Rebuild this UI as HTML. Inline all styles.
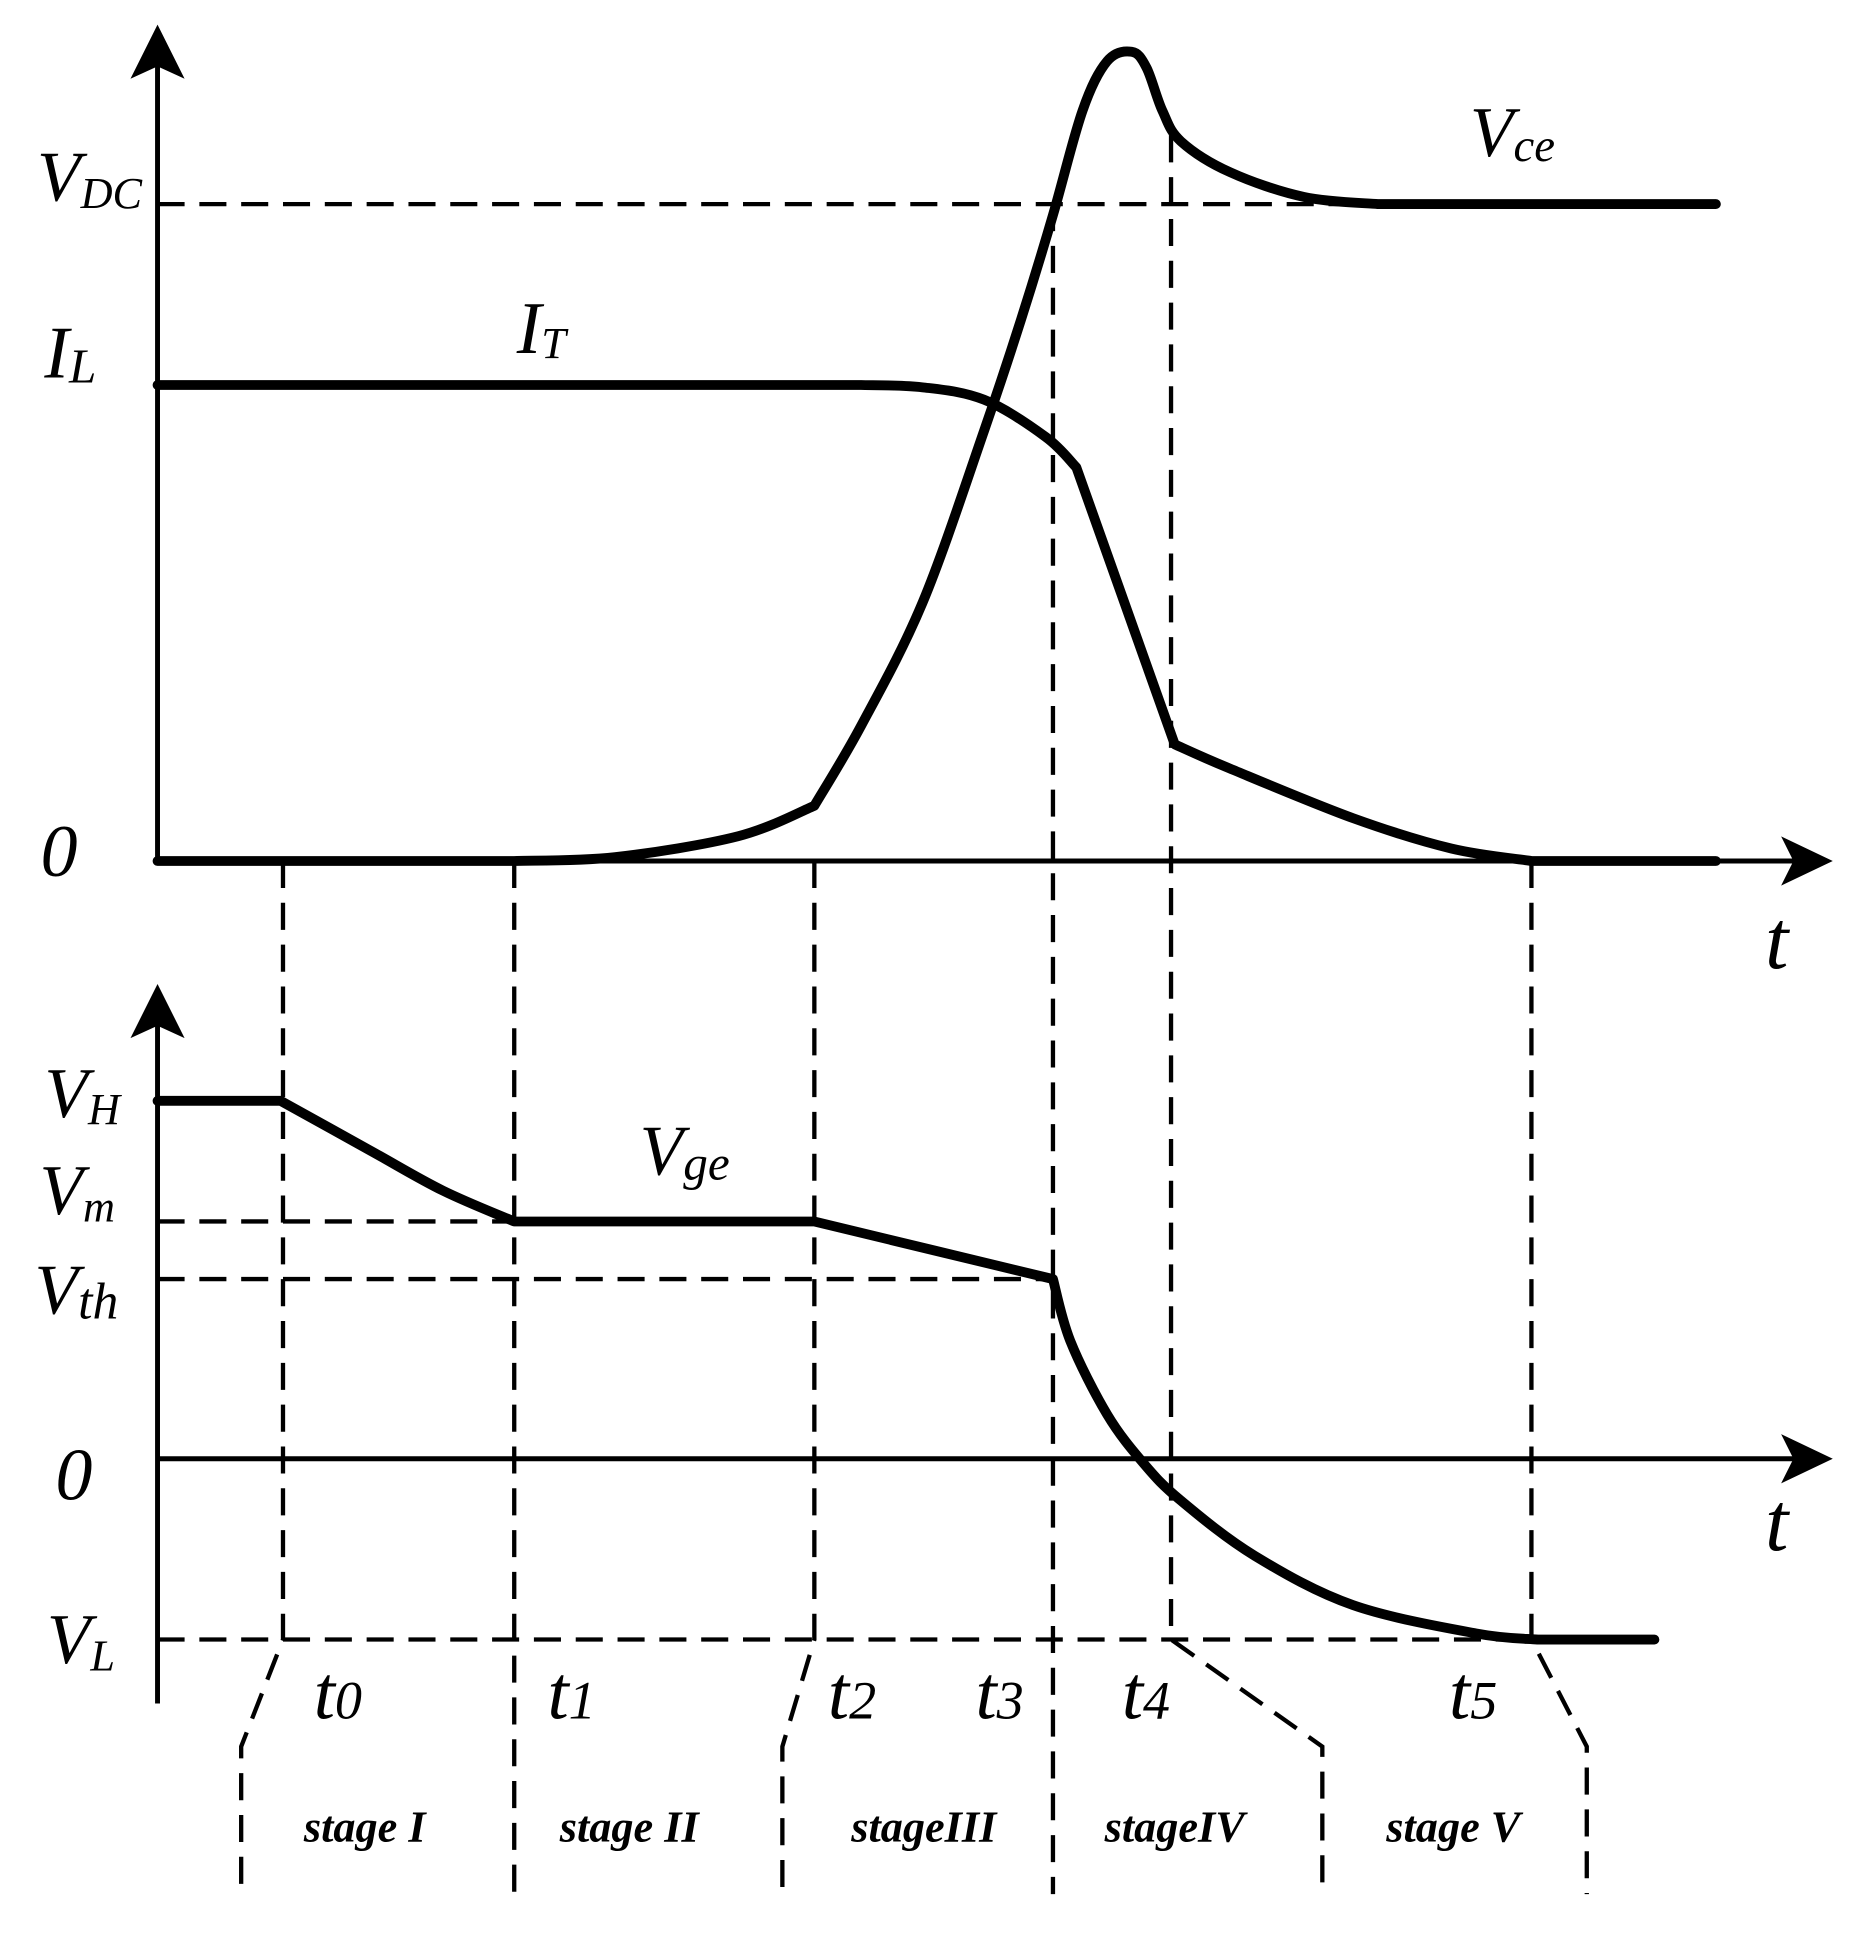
<!DOCTYPE html>
<html><head><meta charset="utf-8"><style>
html,body{margin:0;padding:0;background:#fff}
svg{display:block}
text{font-family:"Liberation Serif",serif;font-style:italic;fill:#000}
</style></head><body>
<svg id="chart" width="1871" height="1936" viewBox="0 0 1521 1574" xmlns="http://www.w3.org/2000/svg">
<g id="axes"></g>
<g id="guides"></g>
<g id="series"></g>
<g id="labels">
<text x="30" y="163" font-size="58">V<tspan font-size="36" dy="6">DC</tspan></text>
<text x="36" y="307" font-size="60">I<tspan font-size="40" dy="4">L</tspan></text>
<text x="420" y="287" font-size="60">I<tspan font-size="36" dy="4">T</tspan></text>
<text x="1195" y="127" font-size="58">V<tspan font-size="38" dy="4">ce</tspan></text>
<text x="33" y="712" font-size="60">0</text>
<text x="1435" y="787" font-size="68">t</text>
<text x="520" y="955" font-size="58">V<tspan font-size="40" dy="4">ge</tspan></text>
<text x="36" y="908" font-size="58">V<tspan font-size="36" dy="6">H</tspan></text>
<text x="32" y="987" font-size="58">V<tspan font-size="36" dy="6">m</tspan></text>
<text x="28" y="1068" font-size="58">V<tspan font-size="42" dy="4">th</tspan></text>
<text x="45" y="1219" font-size="60">0</text>
<text x="1435" y="1260" font-size="68">t</text>
<text x="38" y="1352" font-size="58">V<tspan font-size="36" dy="6">L</tspan></text>
<text x="255" y="1397" font-size="62">t<tspan font-size="44">0</tspan></text>
<text x="445" y="1397" font-size="62">t<tspan font-size="44">1</tspan></text>
<text x="673" y="1397" font-size="62">t<tspan font-size="44">2</tspan></text>
<text x="793" y="1397" font-size="62">t<tspan font-size="44">3</tspan></text>
<text x="912" y="1397" font-size="62">t<tspan font-size="44">4</tspan></text>
<text x="1178" y="1397" font-size="62">t<tspan font-size="44">5</tspan></text>
<g font-size="36" font-weight="bold">
<text x="247" y="1497">stage I</text>
<text x="455" y="1497">stage II</text>
<text x="692" y="1497">stageIII</text>
<text x="898" y="1497">stageIV</text>
<text x="1127" y="1497">stage V</text>
</g>
</g>
</svg>
<script>
// time units; top panel values (IL = 1); bottom panel gate voltage units
const itTimes = [0,57.2,62.2,67.2,72.2,74.7,82.7,87.2,97.2,105.2,111.7,126.7];
const itValues = [1,1,0.995,0.969,0.891,0.827,0.245,0.194,0.09,0.026,0,0];
const itCorners = [1,5,6,10];
const vceTimes = [0,29,37.2,47.2,53.4,57.2,62.2,67.2,70.2,72.8,75.2,77.2,79.2,80.4,81.7,83.2,87.2,93.2,99.2,126.7];
const vceValues = [0,0,0.008,0.052,0.116,0.284,0.543,0.904,1.137,1.357,1.576,1.68,1.7,1.667,1.576,1.512,1.447,1.395,1.38,1.38];
const vceCorners = [1,4,18];
const vgeTimes = [0,10,17.2,23.2,29,53.4,72.8,74.2,77.2,80.2,83.2,89.2,97.2,107.2,112.2,121.7];
const vgeValues = [10,10,8.63,7.49,6.63,6.63,5.02,3.3,1.24,-0.14,-1.17,-2.71,-4.09,-4.88,-5.05,-5.05];
const vgeCorners = [1,4,5,6,14];
const eventTimes = [10.2,29,53.4,72.8,82.4,111.7];
const topLevels = [1.38,1];
const bottomLevels = [6.63,5.02,-5.05];

const NS="http://www.w3.org/2000/svg";
const X=t=>128+t*10;
const YT=v=>700-v*387;
const YB=v=>1186-v*29.1;
function mk(parent,tag,attrs){const e=document.createElementNS(NS,tag);for(const k in attrs)e.setAttribute(k,attrs[k]);parent.appendChild(e);return e;}
const axes=document.getElementById('axes'),guides=document.getElementById('guides'),series=document.getElementById('series');
const dash={stroke:'#000','stroke-width':3.5,'stroke-dasharray':'22 12',fill:'none'};

let a=mk(axes,'line',{x1:X(0),y1:YT(0),x2:1460,y2:YT(0),stroke:'#000','stroke-width':4});

a=mk(axes,'polygon',{points:`1490,${YT(0)} 1448,${YT(0)-20} 1458,${YT(0)} 1448,${YT(0)+20}`,fill:'#000'});

a=mk(axes,'line',{x1:X(0),y1:YT(0),x2:X(0),y2:50,stroke:'#000','stroke-width':4});

a=mk(axes,'polygon',{points:`${X(0)},20 ${X(0)-22},64 ${X(0)},54 ${X(0)+22},64`,fill:'#000'});

a=mk(axes,'line',{x1:X(0),y1:YB(0),x2:1460,y2:YB(0),stroke:'#000','stroke-width':4});

a=mk(axes,'polygon',{points:`1490,${YB(0)} 1448,${YB(0)-20} 1458,${YB(0)} 1448,${YB(0)+20}`,fill:'#000'});

a=mk(axes,'line',{x1:X(0),y1:1385,x2:X(0),y2:830,stroke:'#000','stroke-width':4});

a=mk(axes,'polygon',{points:`${X(0)},800 ${X(0)-22},844 ${X(0)},834 ${X(0)+22},844`,fill:'#000'});


let g=mk(guides,'line',Object.assign({x1:X(0),y1:YT(topLevels[0]),x2:X(99.2),y2:YT(topLevels[0])},dash));

g=mk(guides,'line',Object.assign({x1:X(0),y1:YB(bottomLevels[0]),x2:X(eventTimes[1]),y2:YB(bottomLevels[0])},dash));

g=mk(guides,'line',Object.assign({x1:X(0),y1:YB(bottomLevels[1]),x2:X(eventTimes[3]),y2:YB(bottomLevels[1])},dash));

g=mk(guides,'line',Object.assign({x1:X(0),y1:YB(bottomLevels[2]),x2:X(eventTimes[5]),y2:YB(bottomLevels[2])},dash));


const vl=YB(bottomLevels[2]);
const tops=[YT(0),YT(0),YT(0),YT(topLevels[0]),110,YT(0)];
const offs=[-34,0,-26,0,123,45];
eventTimes.forEach((t,i)=>{
  const x=X(t);
  const p=offs[i]===0?`M${x},${tops[i]} L${x},1540`:`M${x},${tops[i]} L${x},${vl} L${x+offs[i]},1420 L${x+offs[i]},1540`;
  const e=mk(guides,'path',Object.assign({d:p},dash));
  
  
});

function line(ts,vs,Y,corners,name){
  const P=ts.map((t,i)=>[X(t),Y(vs[i])]);
  const n=P.length;
  let d='M'+P[0][0].toFixed(1)+','+P[0][1].toFixed(1);
  for(let i=0;i<n-1;i++){
    const p1=P[i],p2=P[i+1];
    const p0=(i===0||corners.includes(i))?p1:P[i-1];
    const p3=(i+2>=n||corners.includes(i+1))?p2:P[i+2];
    const c1=[p1[0]+(p2[0]-p0[0])/6,p1[1]+(p2[1]-p0[1])/6];
    const c2=[p2[0]-(p3[0]-p1[0])/6,p2[1]-(p3[1]-p1[1])/6];
    d+=` C${c1[0].toFixed(1)},${c1[1].toFixed(1)} ${c2[0].toFixed(1)},${c2[1].toFixed(1)} ${p2[0].toFixed(1)},${p2[1].toFixed(1)}`;
  }
  const e=mk(series,'path',{d:d,stroke:'#000','stroke-width':8,fill:'none','stroke-linejoin':'round','stroke-linecap':'round'});
  
  
}
line(itTimes,itValues,YT,itCorners,'it-current-curve');
line(vceTimes,vceValues,YT,vceCorners,'vce-voltage-curve');
line(vgeTimes,vgeValues,YB,vgeCorners,'vge-voltage-curve');
</script>
</body></html>
